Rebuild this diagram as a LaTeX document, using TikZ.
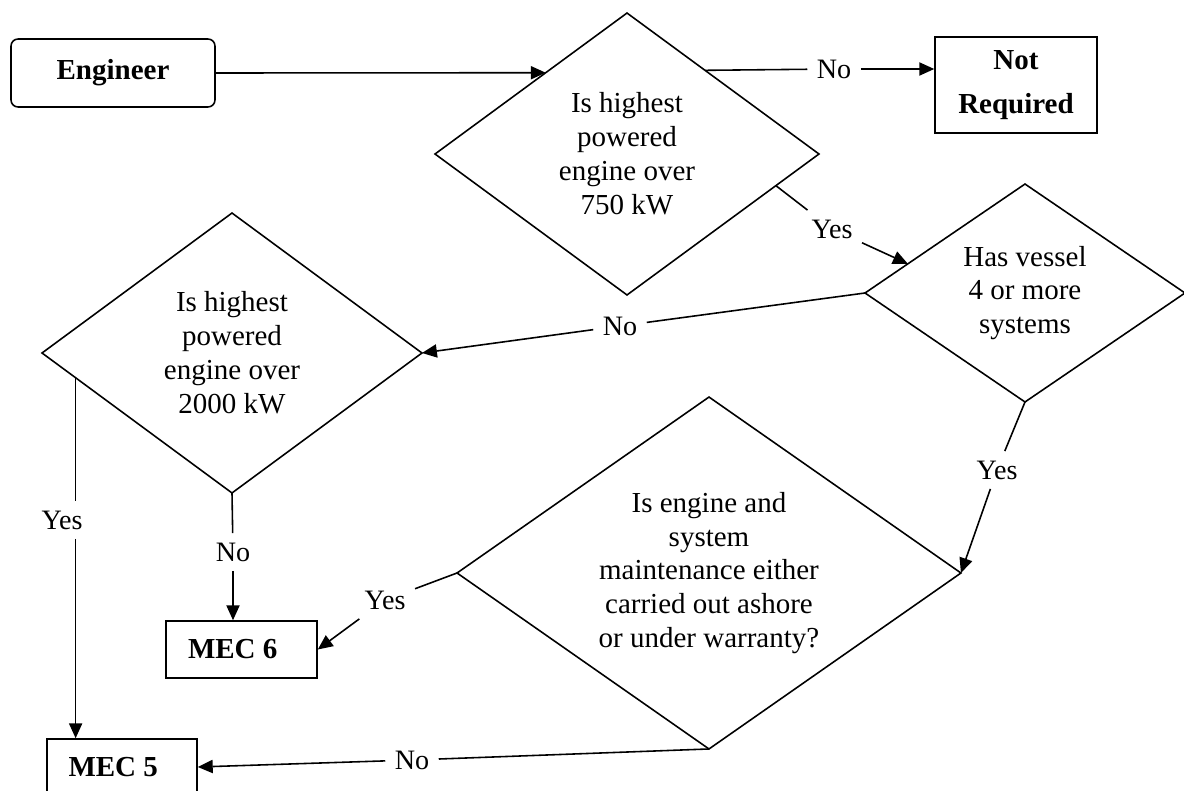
\documentclass[tikz,border=0pt]{standalone}
\usepackage{fontspec}
\setmainfont{Liberation Serif}
\usetikzlibrary{arrows.meta,shapes.geometric}
\tikzset{
  fc diagram/.style={font=\fontsize{16.5}{19.3}\selectfont, line width=0.9pt},
  fc box/.style={draw, line width=0.9pt, align=center, inner sep=0pt,
    font=\fontsize{16.5}{19.3}\selectfont\bfseries},
  fc start/.style={fc box, rounded corners=4pt},
  fc decision/.style={draw, diamond, line width=0.9pt, align=center,
    inner sep=0pt, outer sep=0pt},
  fc label/.style={inner sep=5pt, font=\fontsize{16}{19.3}\selectfont},
  fc line/.style={line width=0.9pt},
  fc arrow/.style={fc line, -{Triangle[length=8.5pt,width=7.5pt]}}
}
\begin{document}
\begin{tikzpicture}[fc diagram,x=0.02cm,y=-0.02cm]
\useasboundingbox (0,0) rectangle (1184,791);
% boxes
\node[fc start,minimum width=4.08cm,minimum height=1.36cm] (eng) at (113,73) {Engineer};
\node[fc box,minimum width=3.24cm,minimum height=1.92cm] (notreq) at (1016,85) {Not\\[6pt]Required};
\node[fc box,minimum width=3.02cm,minimum height=1.14cm] (mec6) at (241.5,649.5) {MEC 6\hspace*{10pt}};
\node[fc box,minimum width=3cm,minimum height=1.12cm] (mec5) at (122,767) {MEC 5\hspace*{10pt}};
% decisions
\node[fc decision,shape aspect=1.36,minimum width=7.68cm,minimum height=5.64cm] (d1) at (627,154)
  {Is highest\\powered\\engine over\\750 kW};
\node[fc decision,shape aspect=1.47,minimum width=6.4cm,minimum height=4.36cm] (d2) at (1025,293)
  {Has vessel\\4 or more\\systems};
\node[fc decision,shape aspect=1.36,minimum width=7.6cm,minimum height=5.6cm] (d3) at (232,353)
  {Is highest\\powered\\engine over\\2000 kW};
\node[fc decision,shape aspect=1.43,minimum width=10.08cm,minimum height=7.04cm] (d4) at (709,573)
  {Is engine and\\system\\maintenance either\\carried out ashore\\or under warranty?};
% answers
\node[fc label] (no1) at (834,69) {No};
\node[fc label] (yes1) at (832,229) {Yes};
\node[fc label] (no2) at (620,326) {No};
\node[fc label] (yes2) at (997,470) {Yes};
\node[fc label] (yes3) at (62,520) {Yes};
\node[fc label] (no3) at (233,552) {No};
\node[fc label] (yes4) at (385,600) {Yes};
\node[fc label] (no4) at (412,760) {No};
% connectors
\draw[fc arrow] (eng.east) -- (d1.135);
\draw[fc line] (d1.47) -- (no1);
\draw[fc arrow] (no1) -- (no1 -| notreq.west);
\draw[fc line] (d1.-12) -- (yes1);
\draw[fc arrow] (yes1) -- (d2.166);
\draw[fc line] (d2.west) -- (no2);
\draw[fc arrow] (no2) -- (d3.east);
\draw[fc line] (d3.189) -- (d3.189 |- yes3.north);
\draw[fc arrow] (d3.189 |- yes3.south) -- (d3.189 |- mec5.north);
\draw[fc line] (d3.south) -- (no3);
\draw[fc arrow] (no3) -- (no3 |- mec6.north);
\draw[fc line] (d2.south) -- (yes2);
\draw[fc arrow] (yes2) -- (d4.east);
\draw[fc line] (d4.west) -- (yes4);
\draw[fc arrow] (yes4) -- (mec6.east);
\draw[fc line] (d4.south) -- (no4);
\draw[fc arrow] (no4) -- (mec5.east);
\end{tikzpicture}
\end{document}
